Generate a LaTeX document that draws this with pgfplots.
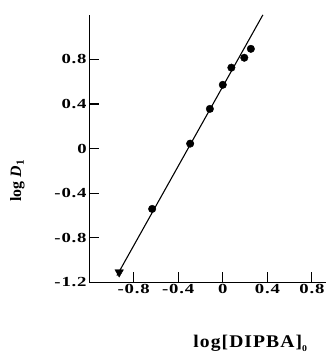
\documentclass[border=0pt]{standalone}
\usepackage{fontspec}
\setmainfont{Liberation Serif}
\newfontfamily\tickfont{Liberation Serif}[FakeStretch=1.35, LetterSpace=6]
\newfontfamily\labfont{Liberation Serif}[FakeStretch=1.1, LetterSpace=6]
\usepackage{pgfplots}
\pgfplotsset{compat=1.18}
\begin{document}
\begin{tikzpicture}
\begin{axis}[
  at={(0,0)}, anchor=south west,
  x=112.5pt, y=112.5pt,
  xmin=-1.2, xmax=0.93, ymin=-1.2, ymax=1.2,
  axis lines*=left,
  axis line style={line width=1.2pt, black},
  xtick={-0.8,-0.4,0,0.4,0.8},
  xticklabels={-0.8,-0.4,0,0.4,0.8},
  ytick={-1.2,-0.8,-0.4,0,0.4,0.8},
  yticklabels={-1.2,-0.8,-0.4,0,0.4,0.8},
  tick align=inside,
  major tick length=10pt,
  tick style={black, line width=1.1pt},
  ticklabel style={font=\tickfont\bfseries\fontsize{14}{14}\selectfont},
  xticklabel style={yshift=1pt},
  yticklabel style={xshift=1pt},
  xlabel={\labfont\bfseries log[DIPBA]\raisebox{-0.5ex}{\fontsize{9}{9}\selectfont 0}},
  xlabel style={at={(axis description cs:0.679,-0.229)}, anchor=center, font=\fontsize{18}{18}\selectfont},
  ylabel={\bfseries log \textit{D}\textsubscript{1}},
  ylabel style={at={(axis description cs:-0.302,0.38)}, anchor=center, font=\fontsize{16}{16}\selectfont},
]
\addplot[black, line width=1.1pt, no marks] coordinates {(-0.95,-1.14) (0.36,1.2)};
\addplot[only marks, mark=triangle*, mark size=5pt, black, mark options={rotate=180}] coordinates {(-0.93,-1.11)};
\addplot[only marks, mark=*, mark size=3.8pt, black] coordinates {
(-0.634,-0.542)
(-0.293,0.044)
(-0.116,0.356)
(0.0,0.572)
(0.077,0.726)
(0.193,0.815)
(0.252,0.895)
};
\end{axis}
\path (-90pt,-70pt) (243pt,285pt);
\end{tikzpicture}
\end{document}
